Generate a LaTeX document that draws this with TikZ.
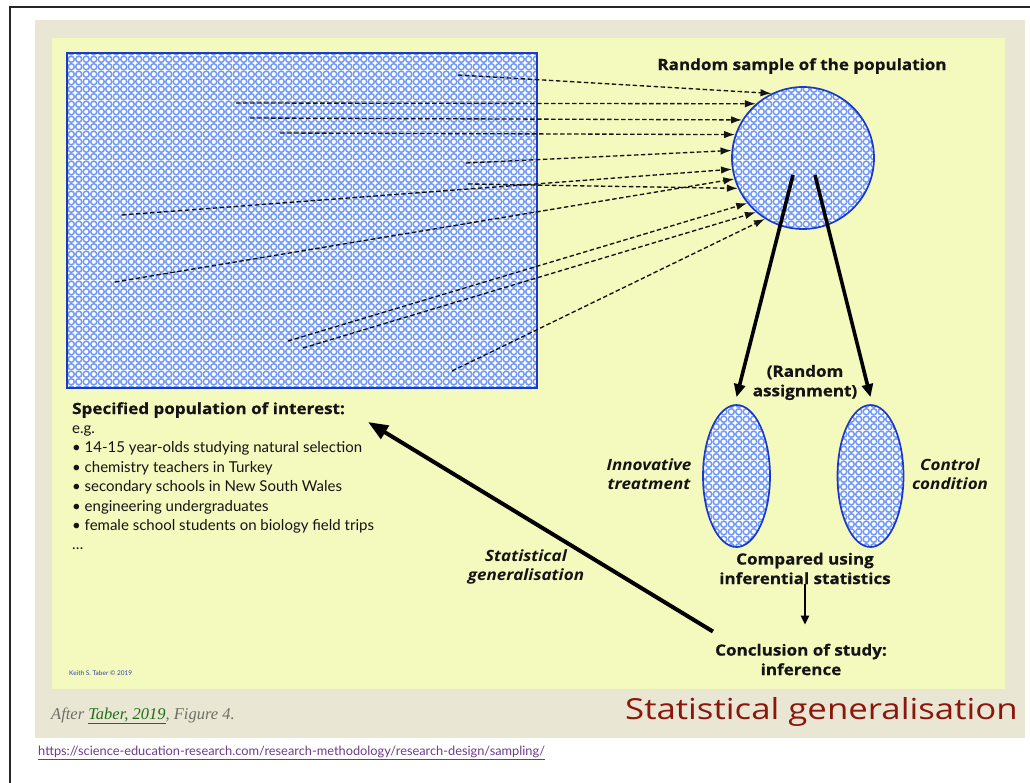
\documentclass[tikz,border=0pt]{standalone}
\usepackage{fontspec}
\setmainfont{Lato}
\newfontfamily\headfont[FakeStretch=1.1, BoldFeatures={FakeBold=0.6}]{Open Sans}
\newfontfamily\titlefont[FakeStretch=1.2]{Open Sans}
\newfontfamily\serifit{Liberation Serif}
\usetikzlibrary{arrows.meta,patterns,shapes.geometric}

% lattice of touching rings used to fill the population shapes
\pgfdeclarepatternformonly{rings}{\pgfqpoint{-0.8pt}{-0.8pt}}{\pgfqpoint{8.3pt}{8.3pt}}{\pgfqpoint{7.5pt}{7.5pt}}{%
  \pgfsetlinewidth{1.45pt}%
  \pgfpathcircle{\pgfqpoint{3.75pt}{3.75pt}}{3.05pt}%
  \pgfusepath{stroke}}

\definecolor{pagebeige}{RGB}{233,231,212}
\definecolor{slideyellow}{RGB}{244,249,190}
\definecolor{ringblue}{RGB}{112,152,248}
\definecolor{edgeblue}{RGB}{28,58,200}
\definecolor{inkdark}{RGB}{20,20,20}
\definecolor{titlered}{RGB}{140,22,12}
\definecolor{citegreen}{RGB}{30,110,20}
\definecolor{citegrey}{RGB}{110,110,100}
\definecolor{urlpurple}{RGB}{110,60,140}
\definecolor{creditblue}{RGB}{50,70,170}

\tikzset{
  popfill/.style={preaction={fill=white}, pattern=rings, pattern color=ringblue},
  popedge/.style={draw=edgeblue, line width=1.7pt},
  sampleray/.style={dash pattern=on 4.5pt off 2.5pt, line width=1.35pt, draw=inkdark,
    -{Latex[length=11pt,width=7.5pt]}},
  bigarrow/.style={line width=3.6pt, draw=black, -{Triangle[length=13pt,width=11pt]}},
  headtext/.style={font=\headfont\bfseries\fontsize{15.5}{19.5}\selectfont, text=inkdark, align=center, inner sep=0pt},
  sidetext/.style={font=\headfont\bfseries\itshape\fontsize{15.5}{19.5}\selectfont, text=inkdark, align=center, inner sep=0pt},
}

\begin{document}
\begin{tikzpicture}[x=1pt,y=-1pt]
\useasboundingbox (0,0) rectangle (1030,783);
\fill[white] (0,0) rectangle (1030,783);
\draw[black!85, line width=1.2pt] (10,783) -- (10,7) -- (1030,7);

% slide background
\fill[pagebeige] (35,20) rectangle (1025,738);
\fill[slideyellow] (52,38) rectangle (1005,689);

% population, sample and the two groups
\node[popfill, popedge, rectangle, minimum width=470pt, minimum height=335pt, inner sep=0pt] (pop) at (302,220.5) {};
\node[popfill, popedge, circle, minimum size=142pt, inner sep=0pt] (sample) at (803,158) {};
\node[popfill, popedge, ellipse, minimum width=67pt, minimum height=142pt, inner sep=0pt] (innov) at (736.5,476) {};
\node[popfill, popedge, ellipse, minimum width=66pt, minimum height=142pt, inner sep=0pt] (control) at (870.5,476) {};

% members of the population drawn into the sample
\coordinate (m1) at (458,75);
\coordinate (m2) at (236,103);
\coordinate (m3) at (250,118);
\coordinate (m4) at (280,133);
\coordinate (m5) at (466,163);
\coordinate (m6) at (122,215);
\coordinate (m7) at (115,282);
\coordinate (m8) at (468,184);
\coordinate (m9) at (288,341);
\coordinate (m10) at (303,348);
\coordinate (m11) at (452,371);
\draw[sampleray] (m1) -- (sample.116);
\draw[sampleray] (m2) -- (sample.131);
\draw[sampleray] (m3) -- (sample.148);
\draw[sampleray] (m4) -- (sample.161);
\draw[sampleray] (m5) -- (sample.174);
\draw[sampleray] (m6) -- (sample.189);
\draw[sampleray] (m7) -- (sample.197);
\draw[sampleray] (m8) -- (sample.205);
\draw[sampleray] (m9) -- (sample.219);
\draw[sampleray] (m10) -- (sample.229);
\draw[sampleray] (m11) -- (sample.238);

% labels
\node[headtext] (samplelabel) at (802,66) {Random sample of the population};
\node[headtext] (assign) at (805,382.5) {(Random\\assignment)};
\node[sidetext] (innovlabel) at (649,474) {Innovative\\treatment};
\node[sidetext] (controllabel) at (950,474) {Control\\condition};
\node[headtext] (compared) at (805,568.5) {Compared using\\inferential statistics};
\node[headtext] (concl) at (801,659.5) {Conclusion of study:\\inference};
\node[sidetext] (gen) at (526,567) {Statistical\\generalisation};

\node[anchor=north west, inner sep=0pt, text=inkdark, align=left,
      font=\fontsize{15}{19.4}\selectfont] (spec) at (72,402)
  {{\headfont\bfseries\fontsize{15.5}{19.4}\selectfont Specified population of interest:}\\
   e.g.\\
   • 14-15 year-olds studying natural selection\\
   • chemistry teachers in Turkey\\
   • secondary schools in New South Wales\\
   • engineering undergraduates\\
   • female school students on biology field trips\\
   \dots};

% random assignment and inference arrows
\coordinate (splitL) at (793,175);
\coordinate (splitR) at (815,175);
\draw[bigarrow] (splitL) -- ([yshift=7pt]innov.north);
\draw[bigarrow] (splitR) -- ([yshift=7pt]control.north);
\draw[line width=2.6pt, -{Triangle[length=9pt,width=8pt]}] (compared.south) -- ([yshift=19pt]compared.south |- concl.north);
\coordinate (genTip) at (368,422);
\draw[line width=4pt, -{Triangle[length=20pt,width=15pt]}] ([shift={(-2pt,12pt)}]concl.north west) -- (genTip);

% credit, caption, title and link
\node[text=creditblue, font=\fontsize{6.5}{7}\selectfont, anchor=west, inner sep=0pt] (credit) at (69,673) {Keith S. Taber © 2019};
\node[anchor=west, inner sep=0pt, font=\serifit\itshape\fontsize{16.5}{19}\selectfont, text=citegrey] (cite) at (51,716)
  {After \textcolor{citegreen}{\underline{Taber, 2019}}, Figure 4.};
\node[anchor=east, inner sep=0pt, text=titlered, font=\titlefont\fontsize{29}{34}\selectfont] (title) at (1018,712) {Statistical generalisation};
\node[anchor=west, inner sep=0pt, text=urlpurple, font=\fontsize{12.8}{14}\selectfont] (url) at (38,753)
  {\underline{https://science-education-research.com/research-methodology/research-design/sampling/}};
\end{tikzpicture}
\end{document}
